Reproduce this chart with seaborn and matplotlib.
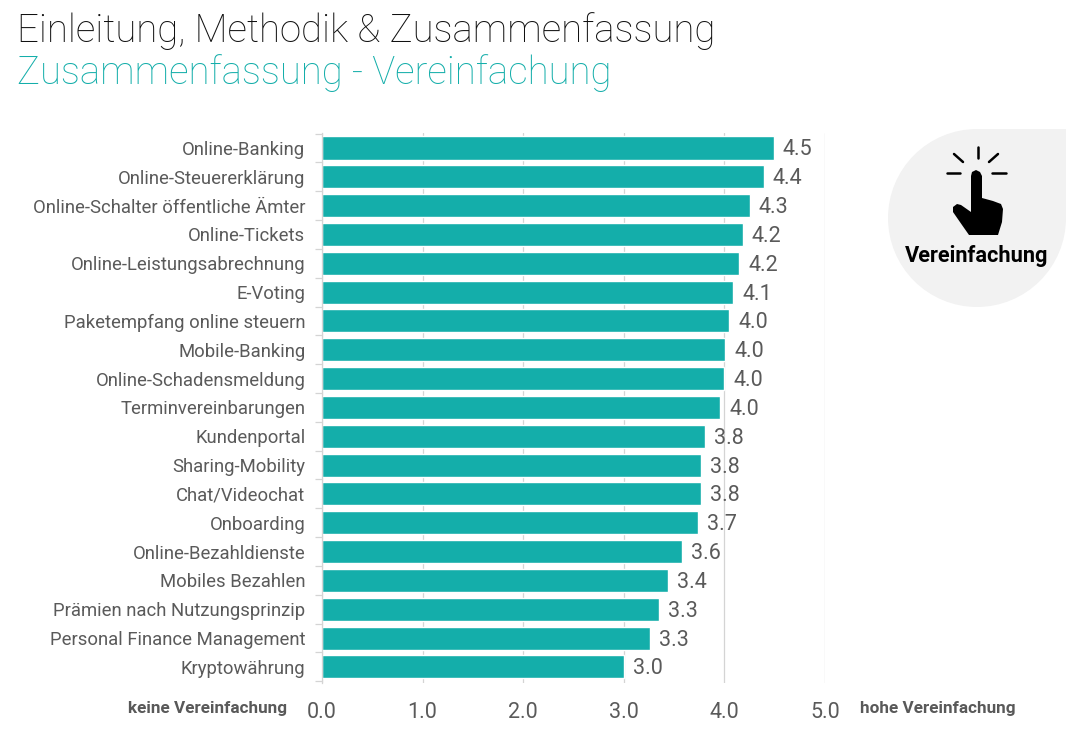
import matplotlib
matplotlib.use('Agg')
import matplotlib.pyplot as plt
import matplotlib.patches as mpatches
import numpy as np
import pandas as pd
import seaborn as sns

CATEGORIES = ['Online-Banking', 'Online-Steuererklärung', 'Online-Schalter öffentliche Ämter',
              'Online-Tickets', 'Online-Leistungsabrechnung', 'E-Voting', 'Paketempfang online steuern',
              'Mobile-Banking', 'Online-Schadensmeldung', 'Terminvereinbarungen', 'Kundenportal',
              'Sharing-Mobility', 'Chat/Videochat', 'Onboarding', 'Online-Bezahldienste',
              'Mobiles Bezahlen', 'Prämien nach Nutzungsprinzip', 'Personal Finance Management',
              'Kryptowährung']
# bar lengths, labels as printed
VALUES = [4.49, 4.39, 4.25, 4.18, 4.15, 4.09, 4.05, 4.01, 4.00, 3.96,
          3.81, 3.77, 3.77, 3.74, 3.58, 3.44, 3.35, 3.26, 3.00]
LABELS = ['4.5', '4.4', '4.3', '4.2', '4.2', '4.1', '4.0', '4.0', '4.0', '4.0',
          '3.8', '3.8', '3.8', '3.7', '3.6', '3.4', '3.3', '3.3', '3.0']
TICKS = [0, 1, 2, 3, 4, 5]

TEAL = '#14aeaa'
GREY = '#5a5a5a'

sns.set_theme(style='white')
plt.rcParams['font.family'] = ['Roboto', 'DejaVu Sans']

W, H = 1086, 738
fig = plt.figure(figsize=(W / 100, H / 100), dpi=100, facecolor='white')
ax = fig.add_axes([322 / W, 1 - 683 / H, (825 - 322) / W, (683 - 133) / H])

df = pd.DataFrame({'name': CATEGORIES, 'value': VALUES})
sns.barplot(data=df, x='value', y='name', color=TEAL, saturation=1, width=0.8, ax=ax)

ax.set_xlim(0, 5)
ax.set_ylim(18.56, -0.52)
ax.set_xlabel('')
ax.set_ylabel('')
sns.despine(ax=ax, bottom=True)
ax.spines['left'].set_color('#d4d4d4')
ax.spines['left'].set_linewidth(0.9)
ax.set_axisbelow(True)
ax.set_xticks(TICKS)
ax.set_xticklabels([f'{t:.1f}' for t in TICKS])
ax.xaxis.grid(True, color='#d4d4d4', lw=0.9)
ax.tick_params(axis='x', length=0, labelsize=15.5, labelcolor=GREY, pad=14)
ax.tick_params(axis='y', length=0, labelsize=13.3, labelcolor=GREY, pad=12)
# short marks between the categories
ax.set_yticks(np.arange(-0.5, len(CATEGORIES)), minor=True)
ax.tick_params(axis='y', which='minor', length=5, width=0.9, color='#d4d4d4', left=True)

for i, (v, lab) in enumerate(zip(VALUES, LABELS)):
    ax.annotate(lab, (v, i), xytext=(9, -2), textcoords='offset pixels', va='center', ha='left',
                fontsize=15.5, color=GREY)

fig.text(17 / W, 1 - 31.5 / H, 'Einleitung, Methodik & Zusammenfassung', fontsize=27.6, color='#111111',
         fontweight='light', va='center')
fig.text(17 / W, 1 - 73.5 / H, 'Zusammenfassung - Vereinfachung', fontsize=27.6, color=TEAL,
         fontweight='light', va='center')
fig.text(287 / W, 1 - 708.5 / H, 'keine Vereinfachung', fontsize=12.3, color='#595959', fontweight='bold',
         ha='right', va='center')
fig.text(860 / W, 1 - 708.5 / H, 'hohe Vereinfachung', fontsize=12.3, color='#595959', fontweight='bold',
         ha='left', va='center')

# Badge in the top right corner
bg = fig.add_axes([0, 0, 1, 1], zorder=-1)
bg.set_xlim(0, W)
bg.set_ylim(H, 0)
bg.axis('off')
bg.add_patch(mpatches.Circle((977, 218), 89, color='#f2f2f2', lw=0))
bg.add_patch(mpatches.Rectangle((977, 129), 89, 89, color='#f2f2f2', lw=0))

over = fig.add_axes([0, 0, 1, 1], zorder=3)
over.set_xlim(0, W)
over.set_ylim(H, 0)
over.axis('off')
over.patch.set_alpha(0)
over.text(977, 256, 'Vereinfachung', fontsize=15.7, fontweight='bold', color='black', ha='center', va='center')
for x0, y0, x1, y1 in [(947, 173, 960, 173), (992, 173, 1006, 173), (954, 154, 963, 162),
                       (998, 154, 989, 162), (978, 147, 978, 158)]:
    over.plot([x0, x1], [y0, y1], color='black', lw=1.8, solid_capstyle='round')
hand = [(971, 176), (972, 172), (976, 170), (980, 172), (982, 176), (982, 198), (993, 201), (1001, 204),
        (1003, 209), (1002, 222), (998, 235), (969, 235), (962, 225), (953, 212), (953, 207), (957, 204),
        (961, 205), (971, 212)]
over.add_patch(mpatches.Polygon(hand, closed=True, color='black', lw=0))

fig.savefig('out.png', dpi=100, facecolor='white')
